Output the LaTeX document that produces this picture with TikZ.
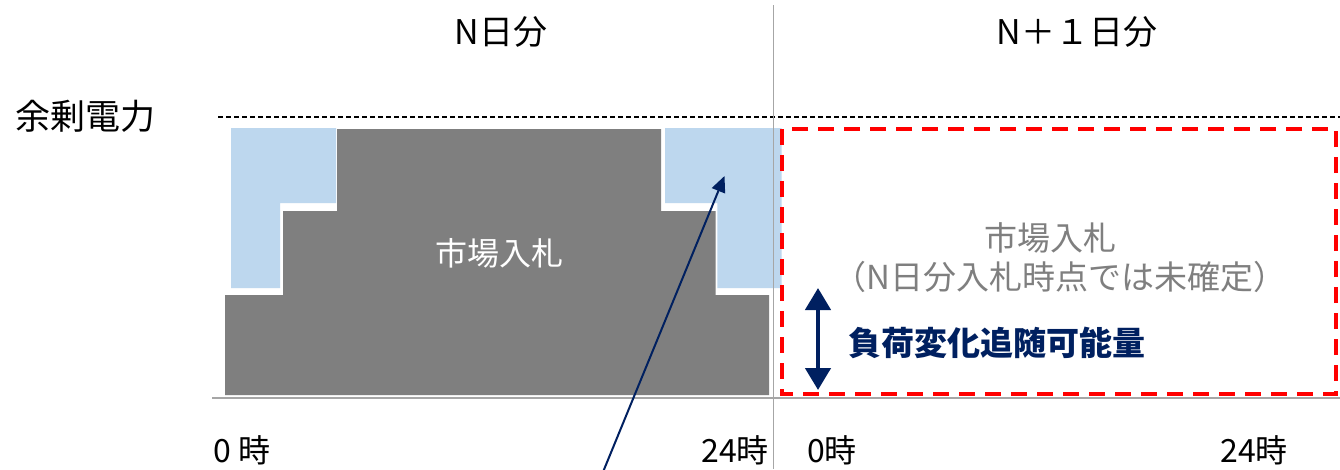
\documentclass[tikz,border=0pt]{standalone}
\usepackage{fontspec}
\setmainfont{Noto Sans CJK JP}
\usetikzlibrary{arrows.meta}
\definecolor{bargray}{HTML}{7F7F7F}
\definecolor{lightblue}{HTML}{BDD7EE}
\definecolor{navy}{HTML}{002060}
\definecolor{axisgray}{HTML}{A6A6A6}
\definecolor{redline}{HTML}{FF0000}
\newcommand{\fsz}[1]{\fontsize{#1}{#1}\selectfont}
\tikzset{
  lbl/.style={inner sep=0pt, anchor=center, text=black},
  axisline/.style={draw=axisgray, line width=1.3pt},
  nav/.style={draw=navy, line width=2pt, -{Triangle[width=14pt,length=16pt]}},
  dbl/.style={draw=navy, line width=4.5pt, {Triangle[width=25pt,length=22pt]}-{Triangle[width=25pt,length=22pt]}},
}
\begin{document}
\begin{tikzpicture}[x=1pt,y=-1pt]
\useasboundingbox[fill=white] (0,0) rectangle (1340,469);
% blue areas
\fill[lightblue] (231,128) -- (336,128) -- (336,203) -- (280,203) -- (280,288) -- (231,288) -- cycle;
\fill[lightblue] (665,128) -- (781.6,128) -- (781.6,288) -- (717.4,288) -- (717.4,203) -- (665,203) -- cycle;
% gray market area
\fill[bargray] (337,129) -- (661,129) -- (661,211) -- (715.5,211) -- (715.5,295) -- (769,295) -- (769,395) -- (225,395) -- (225,295) -- (283,295) -- (283,211) -- (337,211) -- cycle;
% surplus dashed line
\coordinate (dl) at (218,117);
\coordinate (dr) at (1340,117);
\draw[black, line width=1.6pt, dash pattern=on 5pt off 3pt] (dl) -- (dr);
% axes
\coordinate (al) at (212,398);
\coordinate (ar) at (1340,398);
\draw[axisline] (al) -- (ar);
\coordinate (vt) at (773.5,5);
\coordinate (vb) at (773.5,469);
\draw[axisline, line width=1pt] (vt) -- (vb);
% red dashed box
\coordinate (ra) at (782,129);
\coordinate (rb) at (1336,394);
\draw[redline, line width=3.5pt, dash pattern=on 16pt off 10pt] (ra) rectangle (rb);
% arrows
\coordinate (as) at (603,472);
\coordinate (ae) at (724.5,176);
\draw[nav] (as) -- (ae);
\coordinate (dt) at (818,288);
\coordinate (db) at (818,390);
\draw[dbl] (dt) -- (db);
% labels
\node[lbl, font=\fsz{35}] (yojo) at (86,116) {余剰電力};
\node[lbl, font=\fsz{34}] (nday) at (501,32) {N日分};
\node[lbl, font=\fsz{34}] (n1day) at (1077,32) {N＋１日分};
\node[lbl, font=\fsz{32}, text=white] (mkt) at (499,253) {市場入札};
\node[lbl, font=\fsz{33}, text=bargray] (mkt2) at (1050,238) {市場入札};
\node[lbl, font=\fsz{33}, text=bargray] (note) at (1060,277) {（N日分入札時点では未確定）};
\node[lbl, font=\fsz{33}\bfseries, text=navy] (flex) at (997,343) {負荷変化追随可能量};
\node[lbl, font=\fsz{32}] (t0a) at (242,450) {0 時};
\node[lbl, font=\fsz{32}] (t24a) at (735,450) {24時};
\node[lbl, font=\fsz{32}] (t0b) at (832,450) {0時};
\node[lbl, font=\fsz{32}] (t24b) at (1254,450) {24時};
\end{tikzpicture}
\end{document}
